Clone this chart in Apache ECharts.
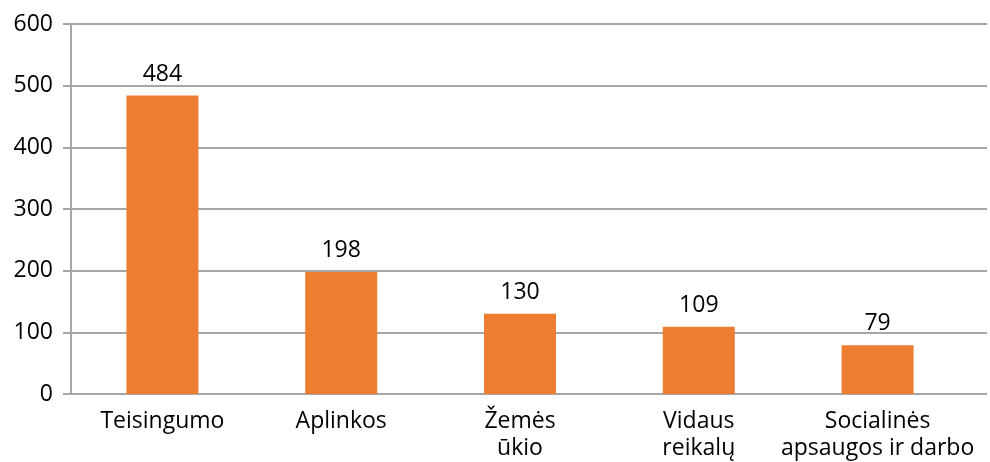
<!DOCTYPE html>
<html>
<head>
<meta charset="utf-8">
<script src="https://cdn.jsdelivr.net/npm/echarts@6/dist/echarts.min.js"></script>
<style>
  html, body { margin: 0; padding: 0; background: #fff; }
  #chart { width: 990px; height: 462px; }
</style>
</head>
<body>
<div id="chart"></div>
<script>
// ministries and number of cases
const categories = ['Teisingumo', 'Aplinkos', 'Žemės\nūkio', 'Vidaus\nreikalų', 'Socialinės\napsaugos ir darbo'];
const values = [484, 198, 130, 109, 79];
const yTicks = { min: 0, max: 600, interval: 100 };

const font = 'Open Sans';
const gridColor = '#a6a6a6';

const chart = echarts.init(document.getElementById('chart'));
chart.setOption({
  animation: false,
  grid: [
    // bars
    { left: 73, right: 23, top: 24, bottom: 68 },
    // gridlines, run a bit further right than the bars' bands
    { left: 71, right: 3, top: 24, bottom: 68 }
  ],
  xAxis: [
    {
      type: 'category', gridIndex: 0, data: categories,
      axisLine: { show: false }, axisTick: { show: false },
      axisLabel: { interval: 0, color: '#000', fontFamily: font, fontSize: 23, margin: 14, lineHeight: 27 }
    },
    {
      type: 'value', gridIndex: 1, min: 0, max: 1, show: false
    }
  ],
  yAxis: [
    {
      type: 'value', gridIndex: 0, ...yTicks,
      axisLine: { show: false }, axisTick: { show: false },
      axisLabel: { show: false }, splitLine: { show: false }
    },
    {
      type: 'value', gridIndex: 1, ...yTicks,
      axisLine: { show: true, lineStyle: { color: gridColor, width: 2 } },
      axisTick: { show: true, length: 8, lineStyle: { color: gridColor, width: 2 } },
      axisLabel: { color: '#000', fontFamily: font, fontSize: 23, margin: 18 },
      splitLine: { show: true, lineStyle: { color: gridColor, width: 2 } }
    }
  ],
  series: [{
    type: 'bar',
    xAxisIndex: 0, yAxisIndex: 0,
    data: values,
    barWidth: 72,
    z: 3,
    itemStyle: { color: '#ED7D31' },
    label: {
      show: true, position: 'top', distance: 10,
      color: '#000', fontFamily: font, fontSize: 23
    }
  }]
});
</script>
</body>
</html>
